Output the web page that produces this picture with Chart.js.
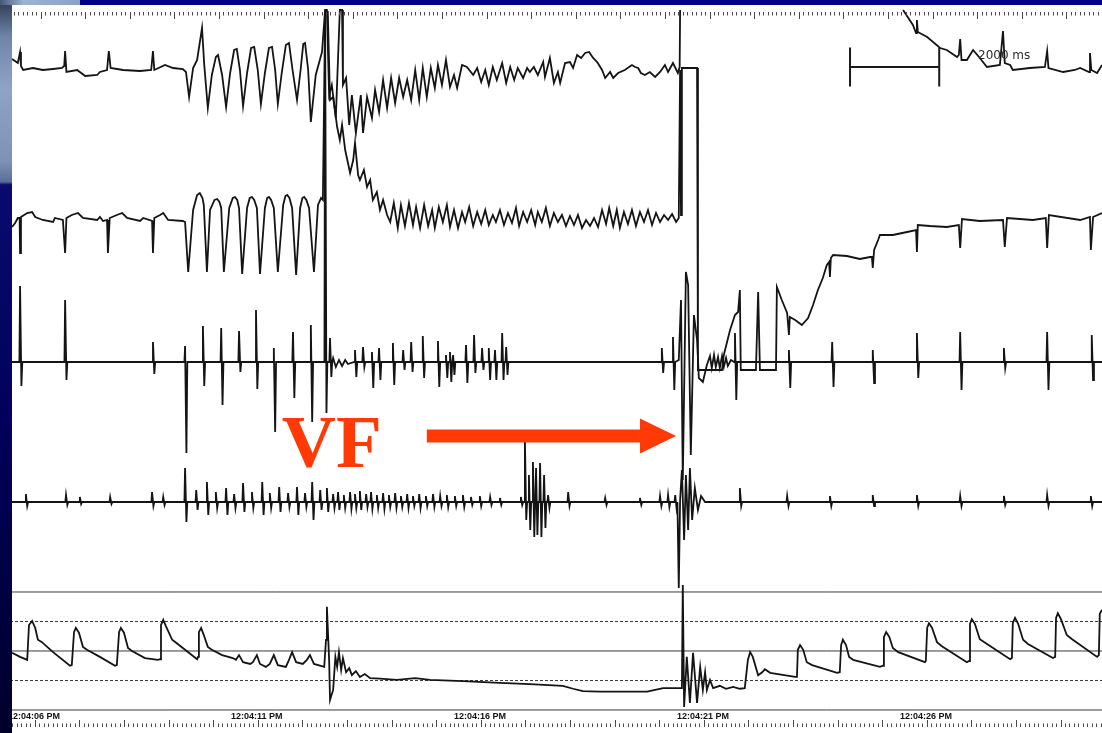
<!DOCTYPE html>
<html>
<head>
<meta charset="utf-8">
<title>VF strip</title>
<script src="https://cdn.jsdelivr.net/npm/chart.js@4.4.0/dist/chart.umd.min.js"></script>
<style>
  html, body { margin: 0; padding: 0; background: #00004a; overflow: hidden; }
  canvas { display: block; }
</style>
</head>
<body>
<canvas id="strip" width="1102" height="733"></canvas>
<script>
// x = seconds after 12:04:06 PM, ECG channels in mm of deflection from their baseline,
// arterial channel in mmHg
const timeLabels = ['12:04:06 PM', '12:04:11 PM', '12:04:16 PM', '12:04:21 PM', '12:04:26 PM'];
const labelTimes = [0, 5, 10, 15, 20];
const xMin = -0.18, xMax = 24.53;

// channel 1 (surface lead), [t, mm]
const ch1 = [[0.09,1.1],[0.22,0.7],[0.27,1.8],[0.29,0.4],[0.34,0.0],[0.56,0.2],[0.78,0.0],[1.01,0.1],[1.21,0.2],[1.26,0.4],[1.28,1.9],[1.31,-0.2],[1.55,0.0],[1.73,-0.6],[2.00,-0.5],[2.06,-0.2],[2.22,0.0],[2.26,1.9],[2.30,0.2],[2.58,0.0],[2.96,-0.1],[3.21,0.0],[3.25,1.9],[3.28,0.0],[3.52,0.5],[3.70,0.2],[3.92,0.1],[3.99,-0.2],[4.06,-2.7],[4.15,0.2],[4.24,1.0],[4.35,4.2],[4.40,0.5],[4.48,-3.8],[4.57,-0.5],[4.66,1.3],[4.71,1.5],[4.80,-0.5],[4.89,-3.7],[4.98,-0.3],[5.07,2.0],[5.13,2.1],[5.20,0.0],[5.27,-3.6],[5.36,-0.3],[5.45,2.2],[5.52,2.3],[5.60,0.0],[5.67,-3.4],[5.76,-0.3],[5.85,2.2],[5.92,2.3],[5.99,0.0],[6.05,-3.4],[6.14,-0.2],[6.23,2.5],[6.30,2.7],[6.38,0.0],[6.48,-3.0],[6.56,0.0],[6.62,2.6],[6.66,2.7],[6.73,0.0],[6.79,-5.2],[6.90,-0.5],[7.04,1.8],[7.11,6.0],[7.15,6.0],[7.20,-2.5],[7.26,-1.5],[7.35,-4.8],[7.44,6.0],[7.49,6.0],[7.51,-1.5],[7.58,-0.8],[7.65,-5.5],[7.71,-2.5],[7.80,-6.3],[7.91,-2.5],[7.96,-6.3],[8.05,-2.7],[8.16,-4.8],[8.23,-2.0],[8.32,-4.2],[8.41,-1.0],[8.50,-3.8],[8.59,-0.8],[8.68,-3.3],[8.77,-0.8],[8.86,-2.7],[8.95,-1.0],[9.04,-3.0],[9.13,0.0],[9.22,-3.0],[9.30,0.2],[9.39,-2.7],[9.48,0.2],[9.57,-1.8],[9.64,0.5],[9.73,-1.5],[9.82,1.0],[9.91,-1.7],[10.00,-0.5],[10.07,-1.8],[10.18,0.5],[10.29,0.3],[10.43,-0.5],[10.52,0.2],[10.61,-1.2],[10.70,0.0],[10.78,-1.5],[10.87,0.3],[10.96,-1.0],[11.08,0.7],[11.17,-1.3],[11.26,0.3],[11.35,-1.0],[11.43,0.2],[11.55,-0.8],[11.64,0.2],[11.70,-0.2],[11.79,0.3],[11.88,-0.5],[12.00,0.8],[12.04,-0.7],[12.15,1.2],[12.24,-1.3],[12.33,-0.2],[12.38,-1.3],[12.49,0.7],[12.60,0.8],[12.67,0.2],[12.76,1.5],[12.85,1.2],[12.94,1.7],[13.03,1.8],[13.12,1.2],[13.21,0.8],[13.32,0.0],[13.39,-0.8],[13.50,-0.2],[13.57,-0.8],[13.68,-0.3],[13.83,0.0],[13.99,0.5],[14.06,0.3],[14.13,0.2],[14.19,-0.3],[14.28,-0.5],[14.39,-0.2],[14.51,-0.7],[14.62,-0.2],[14.73,0.5],[14.80,-0.2],[14.91,0.7],[15.02,-0.3],[15.06,0.3],[15.07,6.0],[15.08,null],[20.07,6.0],[20.29,4.5],[20.36,3.7],[20.38,5.0],[20.40,3.8],[20.61,3.3],[20.90,2.2],[21.05,2.0],[21.28,1.3],[21.32,1.5],[21.35,3.1],[21.38,1.0],[21.50,1.0],[21.64,2.0],[21.79,1.2],[21.95,0.3],[22.24,0.5],[22.31,3.9],[22.35,0.7],[22.47,0.5],[22.53,0.0],[22.91,0.2],[23.25,0.3],[23.30,1.9],[23.33,0.2],[23.66,-0.2],[23.92,0.0],[24.04,0.2],[24.24,-0.2],[24.26,1.7],[24.29,0.0],[24.42,-0.3],[24.53,0.5]];

// channel 2, [t, mm]
const ch2 = [[0.09,-0.9],[0.16,-0.5],[0.22,0.0],[0.26,0.0],[0.27,-3.5],[0.29,0.1],[0.43,0.5],[0.54,0.6],[0.61,0.1],[0.78,-0.2],[1.01,-0.4],[1.05,0.0],[1.23,-0.2],[1.28,-3.5],[1.31,0.0],[1.43,0.3],[1.57,0.5],[1.68,0.0],[2.00,-0.2],[2.06,0.1],[2.13,-0.3],[2.22,-0.2],[2.24,-3.5],[2.28,0.0],[2.44,0.3],[2.56,0.5],[2.67,0.0],[2.96,-0.3],[3.03,0.0],[3.23,-0.3],[3.25,-3.5],[3.28,0.0],[3.41,0.3],[3.48,0.5],[3.59,-0.2],[3.92,-0.3],[3.97,-0.4],[4.04,-5.4],[4.15,0.8],[4.24,2.3],[4.30,2.5],[4.36,2.0],[4.39,1.3],[4.46,-5.4],[4.53,0.8],[4.63,1.8],[4.69,1.9],[4.74,1.6],[4.78,1.0],[4.84,-5.4],[4.96,1.0],[5.04,2.0],[5.09,2.1],[5.14,1.8],[5.18,1.0],[5.25,-5.6],[5.36,1.0],[5.42,2.0],[5.47,2.1],[5.52,1.8],[5.58,1.0],[5.65,-5.6],[5.76,1.0],[5.81,2.0],[5.85,2.1],[5.90,1.8],[5.96,1.0],[6.05,-5.4],[6.17,1.3],[6.22,2.2],[6.26,2.3],[6.31,2.0],[6.37,1.0],[6.46,-5.7],[6.55,1.0],[6.60,2.0],[6.64,2.1],[6.69,1.8],[6.75,1.0],[6.86,-5.4],[6.95,1.3],[7.02,2.0],[7.06,1.8],[7.11,20.6],[7.17,20.6],[7.22,11.8],[7.29,12.1],[7.38,9.1],[7.44,7.8],[7.49,9.3],[7.56,6.8],[7.67,4.5],[7.74,5.8],[7.78,7.5],[7.85,4.3],[7.89,3.8],[7.98,4.8],[8.05,3.1],[8.12,3.8],[8.18,1.8],[8.27,2.6],[8.34,0.8],[8.41,1.8],[8.50,0.3],[8.57,-0.4],[8.65,1.5],[8.74,-1.0],[8.81,1.3],[8.90,-0.8],[8.99,1.5],[9.08,-0.7],[9.15,1.1],[9.24,-1.0],[9.33,1.3],[9.42,-0.8],[9.51,0.8],[9.57,-1.0],[9.66,1.1],[9.75,-0.4],[9.84,1.3],[9.91,-0.9],[10.00,0.8],[10.09,-1.0],[10.18,0.6],[10.25,-0.4],[10.34,1.1],[10.43,-0.8],[10.52,0.6],[10.61,-0.6],[10.70,0.8],[10.78,-0.7],[10.87,0.3],[10.94,-0.4],[11.03,0.8],[11.12,-0.7],[11.21,0.5],[11.30,-0.5],[11.39,1.0],[11.46,-0.8],[11.55,0.6],[11.64,-0.4],[11.73,0.8],[11.82,-0.7],[11.88,0.6],[11.97,-0.4],[12.06,1.0],[12.15,-0.8],[12.24,0.5],[12.33,-0.4],[12.42,0.3],[12.51,-0.8],[12.60,0.2],[12.69,-0.7],[12.78,0.3],[12.87,-1.0],[12.96,-0.2],[13.05,-0.8],[13.14,0.0],[13.23,-0.9],[13.32,0.8],[13.41,-0.6],[13.48,1.0],[13.57,-0.8],[13.65,0.8],[13.72,-1.0],[13.81,0.6],[13.90,-0.6],[13.99,0.8],[14.08,-0.8],[14.17,0.6],[14.26,-0.4],[14.35,0.8],[14.44,-0.7],[14.53,0.5],[14.62,-0.4],[14.71,0.3],[14.80,-0.2],[14.89,0.4],[14.98,-0.4],[15.04,0.0],[15.07,14.8],[15.09,0.3],[15.11,15.0],[15.45,15.0],[15.47,-15.2],[16.01,-15.2],[16.05,-13.7],[16.19,-11.2],[16.30,-9.7],[16.37,-9.4],[16.41,-7.2],[16.43,-15.2],[16.77,-15.2],[16.82,-7.4],[16.86,-15.2],[17.22,-15.2],[17.24,-6.9],[17.35,-8.2],[17.47,-9.5],[17.51,-11.7],[17.53,-9.9],[17.65,-10.2],[17.80,-10.7],[17.94,-10.0],[18.05,-8.7],[18.16,-7.2],[18.27,-6.0],[18.36,-4.7],[18.41,-4.4],[18.43,-5.9],[18.45,-4.0],[18.50,-3.7],[18.81,-3.8],[19.10,-4.1],[19.33,-3.9],[19.37,-3.9],[19.39,-5.0],[19.42,-3.2],[19.51,-2.2],[19.55,-1.7],[19.84,-1.7],[20.16,-1.4],[20.36,-1.2],[20.38,-3.4],[20.40,-0.7],[20.67,-0.8],[21.05,-0.9],[21.32,-0.7],[21.35,-3.0],[21.39,-0.1],[21.79,-0.3],[22.31,-0.2],[22.35,-2.9],[22.40,0.0],[22.98,-0.2],[23.27,0.0],[23.30,-3.0],[23.34,0.3],[24.04,-0.2],[24.26,0.1],[24.28,-3.2],[24.33,0.1],[24.53,0.5]];

// channel 3 beats: [t, up mm, down mm]
const ch3Beats = [[0.27,7.6,-2.4],[1.28,6.2,-1.8],[3.25,2.0,-1.2],[3.97,1.6,-9.1],[4.37,3.6,-2.4],[4.78,3.4,-4.3],[5.18,3.1,-1.0],[5.56,5.2,-2.7],[5.96,1.4,-7.0],[6.39,3.0,-3.6],[6.79,3.7,-6.0],[7.11,35.2,-5.1],[7.22,2.4,-1.5],[7.78,1.2,-1.5],[7.96,1.5,-0.5],[8.16,1.0,-2.6],[8.32,1.4,-1.8],[8.63,1.9,-2.3],[8.86,1.2,-0.8],[9.04,2.0,-1.0],[9.30,2.6,-1.6],[9.64,2.1,-2.5],[9.82,0.7,-1.6],[9.91,1.0,-2.0],[9.98,0.7,-1.3],[10.27,1.7,-2.1],[10.45,2.7,-1.1],[10.63,1.4,-0.8],[10.78,1.4,-1.8],[10.92,1.2,-1.8],[11.08,2.9,-1.8],[11.17,1.5,-1.3],[14.66,1.4,-1.1],[14.91,2.5,-2.8],[16.30,2.9,-3.8],[17.51,1.2,-2.6],[18.48,2.0,-2.5],[19.39,1.2,-2.1],[20.38,2.9,-1.6],[21.35,3.0,-2.8],[22.33,1.4,-0.6],[23.30,3.0,-2.8],[24.30,2.7,-1.8]];
const ch3Extra = [[7.29,0.4],[7.35,-0.5],[7.42,0.2],[7.49,-0.4],[7.56,0.2],[7.62,-0.2],[15.04,0.2],[15.09,6.2],[15.13,-11.8],[15.20,9.0],[15.25,7.7],[15.31,-9.3],[15.38,4.7],[15.45,2.2],[15.49,-1.6],[15.58,-2.0],[15.67,-0.3],[15.74,0.6],[15.78,-0.6],[15.83,0.7],[15.87,-0.5],[15.92,0.5],[15.96,-0.6],[16.01,0.6],[16.05,-0.5],[16.10,0.4],[16.14,-0.4],[16.21,0.2]];

// channel 4 beats: [t, up mm, down mm]
const ch4Beats = [[0.40,0.8,-0.4],[1.30,0.7,-0.3],[1.61,0.5,-0.2],[2.29,0.5,-0.2],[3.23,1.0,-0.4],[3.48,0.5,-0.3],[3.97,3.4,-2.0],[4.22,1.2,-0.8],[4.46,2.0,-1.3],[4.66,1.0,-0.6],[4.89,1.4,-1.3],[5.07,0.8,-0.6],[5.27,1.9,-1.0],[5.47,1.0,-0.6],[5.70,2.0,-1.3],[5.87,0.9,-0.6],[6.08,1.5,-1.0],[6.28,0.9,-0.5],[6.48,1.5,-1.3],[6.66,0.9,-0.5],[6.82,2.0,-1.8],[7.00,1.2,-0.8],[7.15,1.4,-1.0],[7.29,0.8,-0.6],[7.40,1.0,-0.8],[7.53,0.7,-0.6],[7.67,1.0,-0.7],[7.78,0.8,-0.6],[7.89,1.1,-0.8],[8.03,0.8,-0.5],[8.14,1.0,-0.7],[8.27,0.7,-0.6],[8.41,0.9,-0.7],[8.54,0.7,-0.5],[8.68,0.9,-0.6],[8.81,0.6,-0.5],[8.95,0.8,-0.6],[9.08,0.6,-0.4],[9.22,0.8,-0.6],[9.37,0.6,-0.4],[9.53,0.8,-0.5],[9.69,0.6,-0.4],[9.84,0.7,-0.5],[10.02,0.6,-0.4],[10.20,0.7,-0.5],[10.38,0.5,-0.3],[10.58,0.6,-0.4],[10.81,0.5,-0.3],[11.03,0.4,-0.3],[11.50,0.5,-0.3],[11.59,6.2,-1.8],[11.68,2.7,-2.8],[11.77,4.0,-3.5],[11.84,3.4,-3.3],[11.93,3.9,-3.5],[12.02,2.7,-2.6],[12.11,0.7,-0.6],[12.56,1.0,-0.4],[13.39,0.4,-0.3],[14.17,0.4,-0.3],[14.62,0.6,-0.4],[14.80,0.7,-0.5],[14.96,0.7,-0.6],[16.41,1.4,-0.4],[17.47,0.6,-0.4],[18.43,0.6,-0.4],[19.39,0.7,-0.4],[20.38,0.7,-0.4],[21.35,0.6,-0.4],[22.33,0.6,-0.3],[23.30,0.7,-0.4],[24.28,0.6,-0.4]];
const ch4Extra = [[15.02,0],[15.04,-8.6],[15.07,0.2],[15.11,3.2],[15.16,-3.8],[15.20,2.7],[15.25,-2.8],[15.29,3.4],[15.34,-1.8],[15.40,1.4],[15.47,-0.8],[15.54,0.6],[15.63,0]];

// arterial pressure, [t, mmHg]
const art = [[0.09,97],[0.27,90],[0.43,85],[0.47,144],[0.54,151],[0.61,139],[0.67,119],[0.76,115],[1.01,98],[1.39,75],[1.43,76],[1.48,132],[1.52,139],[1.59,131],[1.68,107],[1.77,102],[2.06,90],[2.40,75],[2.44,76],[2.49,132],[2.53,139],[2.60,131],[2.69,105],[2.78,100],[3.07,88],[3.36,85],[3.41,86],[3.43,144],[3.48,153],[3.54,142],[3.68,119],[3.77,114],[3.97,102],[4.24,86],[4.26,90],[4.28,132],[4.33,139],[4.39,127],[4.48,107],[4.57,102],[4.80,93],[5.04,88],[5.11,85],[5.18,93],[5.27,81],[5.43,78],[5.49,81],[5.58,93],[5.65,78],[5.78,73],[5.87,78],[5.96,93],[6.05,76],[6.23,73],[6.30,85],[6.37,98],[6.46,81],[6.61,78],[6.70,85],[6.77,93],[6.86,78],[7.09,73],[7.13,119],[7.15,175],[7.20,85],[7.22,17],[7.29,34],[7.34,90],[7.38,73],[7.42,98],[7.47,68],[7.51,88],[7.58,64],[7.65,71],[7.71,59],[7.80,66],[7.89,56],[8.00,61],[8.12,54],[8.34,53],[8.72,51],[9.13,54],[9.46,51],[10.20,49],[11.03,46],[11.70,44],[12.44,41],[12.67,36],[12.89,32],[13.27,31],[14.33,31],[14.51,34],[14.69,37],[15.07,37],[15.11,37],[15.13,212],[15.16,5],[15.22,90],[15.29,12],[15.36,97],[15.45,12],[15.52,73],[15.58,34],[15.63,64],[15.67,34],[15.74,51],[15.81,37],[15.96,41],[16.10,36],[16.26,39],[16.41,36],[16.52,37],[16.59,85],[16.64,98],[16.70,90],[16.82,59],[16.91,64],[16.97,69],[17.09,63],[17.65,56],[17.69,56],[17.71,102],[17.76,110],[17.83,102],[17.91,81],[18.03,76],[18.59,63],[18.65,64],[18.68,110],[18.72,119],[18.79,110],[18.86,90],[18.95,85],[19.55,73],[19.62,75],[19.64,124],[19.69,132],[19.76,124],[19.84,105],[19.96,98],[20.56,81],[20.58,83],[20.61,139],[20.65,147],[20.72,139],[20.83,115],[20.94,108],[21.50,81],[21.55,83],[21.57,146],[21.61,154],[21.68,146],[21.79,120],[21.91,114],[22.47,86],[22.51,88],[22.53,147],[22.58,156],[22.65,146],[22.76,119],[22.87,112],[23.43,88],[23.48,90],[23.50,156],[23.54,164],[23.61,154],[23.74,127],[23.86,120],[24.42,90],[24.46,93],[24.48,163],[24.53,170]];

const pressureLevels = [0, 50, 100, 150, 200];
const dashedLevels = [50, 150];
const scaleBarStart = 18.88;   // s
const scaleBarMs = 2000;

// baselines of the four ECG channels on the mm axis
const baselines = [66.3, 51.5, 37.1, 23.1];

function trace(pairs, offset) {
  return pairs.map(([t, v]) => ({ x: t, y: v === null ? null : offset + v }));
}
function beatsToPairs(beats, extra) {
  const pts = [[0.09, 0], [24.53, 0]];
  beats.forEach(([t, up, dn]) => {
    pts.push([t - 0.015, 0], [t, up], [t + 0.03, dn], [t + 0.05, 0]);
  });
  return pts.concat(extra).sort((a, b) => a[0] - b[0]);
}

const ink = '#141414';
const lineDs = (data, yAxisID) => ({
  data, yAxisID, borderColor: ink, borderWidth: 1.8, pointRadius: 0, tension: 0, spanGaps: false
});

const datasets = [
  lineDs(trace(ch1, baselines[0]), 'y'),
  lineDs(trace(ch2, baselines[1]), 'y'),
  lineDs(trace(beatsToPairs(ch3Beats, ch3Extra), baselines[2]), 'y'),
  lineDs(trace(beatsToPairs(ch4Beats, ch4Extra), baselines[3]), 'y'),
  lineDs(art.map(([t, p]) => ({ x: t, y: p })), 'yP')
];
pressureLevels.forEach(p => {
  datasets.push({
    data: [{ x: xMin, y: p }, { x: xMax, y: p }],
    yAxisID: 'yP',
    borderColor: '#3a3a3a',
    borderWidth: 1,
    borderDash: dashedLevels.includes(p) ? [3, 2] : [],
    pointRadius: 0
  });
});

const stripDecor = {
  id: 'stripDecor',
  beforeDraw(chart) {
    const { ctx, width, height } = chart;
    ctx.save();
    ctx.fillStyle = '#ffffff';
    ctx.fillRect(0, 0, width, height);
    ctx.restore();
  },
  afterDraw(chart) {
    const { ctx, chartArea: a, scales: { x, y } } = chart;
    ctx.save();

    // time rulers, 0.1 s minor ticks
    ctx.strokeStyle = '#4a4a4a';
    ctx.lineWidth = 1;
    const ruler = (offset, yBase, dir) => {
      for (let k = -20; k <= 260; k++) {
        const px = Math.round(x.getPixelForValue(offset + k / 10)) + 0.5;
        if (px < 12 || px > a.right) continue;
        const len = k % 10 === 0 ? 7 : 3.5;
        ctx.beginPath();
        ctx.moveTo(px, yBase);
        ctx.lineTo(px, yBase + dir * len);
        ctx.stroke();
      }
    };
    ruler(0.73, a.top + 12, 1);
    ruler(0.60, a.bottom - 6, -1);

    // clock labels
    ctx.fillStyle = '#111111';
    ctx.font = 'bold 9px "Liberation Sans"';
    ctx.textBaseline = 'alphabetic';
    labelTimes.forEach((t, i) => {
      ctx.fillText(timeLabels[i], x.getPixelForValue(t), a.bottom - 14);
    });

    // 2000 ms calibration bar
    const bx0 = x.getPixelForValue(scaleBarStart);
    const bx1 = x.getPixelForValue(scaleBarStart + scaleBarMs / 1000);
    const by = y.getPixelForValue(66.6);
    const cap = y.getPixelForValue(66.6 - 1.95) - by;
    ctx.strokeStyle = '#1a1a1a';
    ctx.lineWidth = 2;
    ctx.beginPath();
    ctx.moveTo(bx0, by); ctx.lineTo(bx1, by);
    ctx.moveTo(bx0, by - cap); ctx.lineTo(bx0, by + cap);
    ctx.moveTo(bx1, by - cap); ctx.lineTo(bx1, by + cap);
    ctx.stroke();
    ctx.fillStyle = '#2a2a2a';
    ctx.font = '12px "DejaVu Sans"';
    ctx.fillText(scaleBarMs + ' ms', x.getPixelForValue(21.75), y.getPixelForValue(66.6) - 8);

    // slide frame: photo corner and navy border
    const left = ctx.createLinearGradient(0, 0, 0, a.bottom);
    left.addColorStop(0, '#2c3950');
    left.addColorStop(0.05, '#6f84a8');
    left.addColorStop(0.12, '#8ea3c6');
    left.addColorStop(0.22, '#7e92b6');
    left.addColorStop(0.248, '#5a6d98');
    left.addColorStop(0.252, '#0a0a6e');
    left.addColorStop(0.6, '#00005a');
    left.addColorStop(1, '#00002a');
    ctx.fillStyle = left;
    ctx.fillRect(0, 0, 12, a.bottom);
    const top = ctx.createLinearGradient(0, 0, 80, 0);
    top.addColorStop(0, '#44577a');
    top.addColorStop(0.3, '#9db3d4');
    top.addColorStop(1, '#8aa0c6');
    ctx.fillStyle = top;
    ctx.fillRect(0, 0, 80, 5);
    ctx.fillStyle = '#00008c';
    ctx.fillRect(80, 0, a.right - 80, 5);

    // VF annotation
    ctx.fillStyle = '#ff3a06';
    ctx.font = 'bold 75px "Liberation Serif"';
    ctx.fillText('VF', x.getPixelForValue(6.14), y.getPixelForValue(26.6));
    const ax0 = x.getPixelForValue(9.39), axHead = x.getPixelForValue(14.17), axTip = x.getPixelForValue(14.98);
    const ay = y.getPixelForValue(29.7);
    ctx.fillRect(ax0, ay - 6.5, axHead - ax0, 13);
    ctx.beginPath();
    ctx.moveTo(axHead, ay - 17.5);
    ctx.lineTo(axTip, ay);
    ctx.lineTo(axHead, ay + 17.5);
    ctx.closePath();
    ctx.fill();

    ctx.restore();
  }
};

new Chart(document.getElementById('strip').getContext('2d'), {
  type: 'line',
  data: { datasets },
  options: {
    responsive: false,
    animation: false,
    layout: { padding: 0 },
    plugins: { legend: { display: false }, tooltip: { enabled: false } },
    scales: {
      x: { type: 'linear', min: xMin, max: xMax, display: false },
      y: { min: 0, max: 73.3, display: false },
      yP: { min: -39, max: 1203.4, display: false }
    }
  },
  plugins: [stripDecor]
});
</script>
</body>
</html>
